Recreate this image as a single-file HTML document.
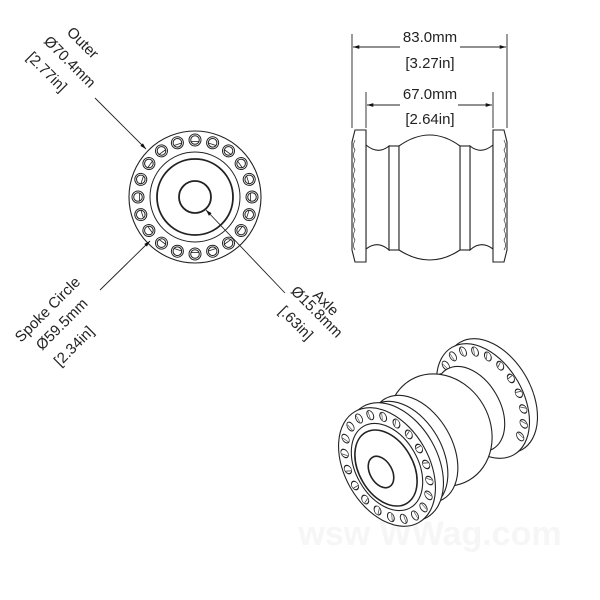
<!DOCTYPE html>
<html><head><style>
html,body{margin:0;padding:0;background:#fff;width:600px;height:600px;overflow:hidden}
svg{display:block}
text{font-family:"Liberation Sans",sans-serif;fill:#222}
</style></head><body>
<svg width="600" height="600" viewBox="0 0 600 600" xmlns="http://www.w3.org/2000/svg">
<defs>
<marker id="ar" viewBox="0 0 10 10" refX="10" refY="5" markerWidth="7" markerHeight="7" orient="auto-start-reverse"><path d="M0,2 L10,5 L0,8 z" fill="#111"/></marker>
<g id="h"><circle r="6" fill="#fff" stroke="#222" stroke-width="1"/><circle r="4.3" fill="none" stroke="#222" stroke-width="1"/><line x1="-1.5" y1="-4" x2="-1.5" y2="4" stroke="#222" stroke-width="0.8"/></g>
<g id="ih"><ellipse rx="3" ry="5" fill="#fff" stroke="#222" stroke-width="0.9"/><line x1="-1" y1="-4" x2="-1" y2="4" stroke="#444" stroke-width="0.6"/></g>
</defs>

<!-- FRONT VIEW -->
<g fill="none" stroke="#222">
<circle cx="195" cy="197" r="66" stroke-width="1.1"/>
<circle cx="195" cy="197" r="45" stroke-width="1"/>
<circle cx="195" cy="197" r="38" stroke-width="1.8"/>
<circle cx="195" cy="197" r="16" stroke-width="1.8"/>
</g>
<g>
<use href="#h" x="252" y="197" transform="rotate(0 195 197)"/>
<use href="#h" x="252" y="197" transform="rotate(18 195 197)"/>
<use href="#h" x="252" y="197" transform="rotate(36 195 197)"/>
<use href="#h" x="252" y="197" transform="rotate(54 195 197)"/>
<use href="#h" x="252" y="197" transform="rotate(72 195 197)"/>
<use href="#h" x="252" y="197" transform="rotate(90 195 197)"/>
<use href="#h" x="252" y="197" transform="rotate(108 195 197)"/>
<use href="#h" x="252" y="197" transform="rotate(126 195 197)"/>
<use href="#h" x="252" y="197" transform="rotate(144 195 197)"/>
<use href="#h" x="252" y="197" transform="rotate(162 195 197)"/>
<use href="#h" x="252" y="197" transform="rotate(180 195 197)"/>
<use href="#h" x="252" y="197" transform="rotate(198 195 197)"/>
<use href="#h" x="252" y="197" transform="rotate(216 195 197)"/>
<use href="#h" x="252" y="197" transform="rotate(234 195 197)"/>
<use href="#h" x="252" y="197" transform="rotate(252 195 197)"/>
<use href="#h" x="252" y="197" transform="rotate(270 195 197)"/>
<use href="#h" x="252" y="197" transform="rotate(288 195 197)"/>
<use href="#h" x="252" y="197" transform="rotate(306 195 197)"/>
<use href="#h" x="252" y="197" transform="rotate(324 195 197)"/>
<use href="#h" x="252" y="197" transform="rotate(342 195 197)"/>
</g>
<!-- leaders -->
<g stroke="#222" stroke-width="0.9" fill="none">
<line x1="95" y1="98" x2="146" y2="149" marker-end="url(#ar)"/>
<line x1="100" y1="290" x2="150" y2="241" marker-end="url(#ar)"/>
<line x1="285" y1="293" x2="206" y2="210" marker-end="url(#ar)"/>
</g>
<g font-size="15">
<text transform="translate(66,33) rotate(45)">Outer</text>
<text transform="translate(43,42) rotate(45)">Ø70.4mm</text>
<text transform="translate(26,58) rotate(45)">[2.77in]</text>
<text transform="translate(21,343) rotate(-45)">Spoke Circle</text>
<text transform="translate(42,351) rotate(-45)">Ø59.5mm</text>
<text transform="translate(60,367) rotate(-45)">[2.34in]</text>
<text transform="translate(312,296) rotate(45)">Axle</text>
<text transform="translate(290,292) rotate(45)">Ø15.8mm</text>
<text transform="translate(278,312) rotate(45)">[.63in]</text>
</g>

<!-- SIDE VIEW -->
<g stroke="#222" stroke-width="0.9" fill="none">
<line x1="352" y1="34" x2="352" y2="128"/>
<line x1="507" y1="34" x2="507" y2="128"/>
<line x1="353" y1="47" x2="400" y2="47" marker-end="url(#ar)" transform="rotate(180 376.5 47)"/>
<line x1="460" y1="47" x2="506" y2="47" marker-end="url(#ar)"/>
<line x1="366" y1="92" x2="366" y2="128"/>
<line x1="493" y1="92" x2="493" y2="128"/>
<line x1="367" y1="105" x2="400" y2="105" marker-end="url(#ar)" transform="rotate(180 383.5 105)"/>
<line x1="458" y1="105" x2="492" y2="105" marker-end="url(#ar)"/>
</g>
<g font-size="15" text-anchor="middle">
<text x="430" y="42">83.0mm</text>
<text x="430" y="68">[3.27in]</text>
<text x="430" y="99">67.0mm</text>
<text x="430" y="124">[2.64in]</text>
</g>
<g stroke="#222" stroke-width="1.1" fill="#fff">
<path d="M366,145 Q378,155 389,146 L389,250 Q378,240 366,249 Z"/>
<path d="M470,146 Q481,155 493,145 L493,249 Q481,240 470,250 Z"/>
<rect x="389" y="146" width="10" height="104"/>
<rect x="460" y="146" width="10" height="104"/>
<path d="M399,146 Q430,124 460,146 L460,250 Q430,270 399,250 Z"/>
<path d="M355,130 L366,130 L366,262 L355,262 L352,250 L352,142 Z"/>
<path d="M493,130 L504,130 L507,142 L507,250 L504,262 L493,262 Z"/>
</g>
<g stroke="#333" stroke-width="0.7" fill="none">
<path d="M355,140 q-3,6 0,10 q-3,6 0,10 q-3,6 0,10 q-3,6 0,10 q-3,6 0,10 q-3,6 0,10 q-3,6 0,10 q-3,6 0,10 q-3,6 0,10 q-3,6 0,10 q-3,6 0,10"/>
<path d="M504,140 q3,6 0,10 q3,6 0,10 q3,6 0,10 q3,6 0,10 q3,6 0,10 q3,6 0,10 q3,6 0,10 q3,6 0,10 q3,6 0,10 q3,6 0,10 q3,6 0,10"/>
</g>

<!-- ISO VIEW -->
<text x="430" y="545" font-size="34" font-weight="bold" text-anchor="middle" style="fill:#f6f6f6">wsw  WWag.com</text>
<g stroke="#222" stroke-width="1.1">
<!-- back flange -->
<ellipse cx="491" cy="396" rx="40" ry="62" transform="rotate(-30 491 396)" fill="#fff"/>
<ellipse cx="483" cy="401" rx="40" ry="62" transform="rotate(-30 483 401)" fill="#fff"/>
</g>
<g transform="translate(483 401) rotate(-30) scale(0.66 1)">
<use href="#ih" transform="rotate(-60) translate(0 -54) scale(1.5 1)"/>
<use href="#ih" transform="rotate(-42) translate(0 -54) scale(1.5 1)"/>
<use href="#ih" transform="rotate(-24) translate(0 -54) scale(1.5 1)"/>
<use href="#ih" transform="rotate(-6) translate(0 -54) scale(1.5 1)"/>
<use href="#ih" transform="rotate(12) translate(0 -54) scale(1.5 1)"/>
<use href="#ih" transform="rotate(30) translate(0 -54) scale(1.5 1)"/>
<use href="#ih" transform="rotate(48) translate(0 -54) scale(1.5 1)"/>
<use href="#ih" transform="rotate(66) translate(0 -54) scale(1.5 1)"/>
<use href="#ih" transform="rotate(84) translate(0 -54) scale(1.5 1)"/>
<use href="#ih" transform="rotate(102) translate(0 -54) scale(1.5 1)"/>
<use href="#ih" transform="rotate(120) translate(0 -54) scale(1.5 1)"/>
<use href="#ih" transform="rotate(138) translate(0 -54) scale(1.5 1)"/>
<use href="#ih" transform="rotate(156) translate(0 -54) scale(1.5 1)"/>
</g>
<g stroke="#222" stroke-width="1.1">
<!-- back neck -->
<ellipse cx="470" cy="409" rx="30" ry="46" transform="rotate(-30 470 409)" fill="#fff"/>
<!-- bulb -->
<ellipse cx="440" cy="430" rx="50" ry="58" transform="rotate(-30 440 430)" fill="#fff"/>
<!-- front ridge -->
<ellipse cx="414" cy="449" rx="38" ry="58" transform="rotate(-30 414 449)" fill="#fff"/>
<ellipse cx="404" cy="455" rx="38" ry="58" transform="rotate(-30 404 455)" fill="#fff"/>
<!-- front flange -->
<ellipse cx="395" cy="462" rx="42" ry="64" transform="rotate(-30 395 462)" fill="#fff"/>
<ellipse cx="387" cy="467" rx="42" ry="64" transform="rotate(-30 387 467)" fill="#fff"/>
<ellipse cx="387" cy="467" rx="31" ry="47" transform="rotate(-30 387 467)" fill="#fff"/>
<ellipse cx="386" cy="468" rx="27" ry="41" transform="rotate(-30 386 468)" fill="#fff" stroke-width="1.6"/>
<ellipse cx="381" cy="472" rx="11" ry="17" transform="rotate(-30 381 472)" fill="#fff" stroke-width="1.6"/>
</g>
<g transform="translate(387 467) rotate(-30) scale(0.66 1)">
<use href="#ih" transform="rotate(0) translate(0 -56) scale(1.5 1)"/>
<use href="#ih" transform="rotate(18) translate(0 -56) scale(1.5 1)"/>
<use href="#ih" transform="rotate(36) translate(0 -56) scale(1.5 1)"/>
<use href="#ih" transform="rotate(54) translate(0 -56) scale(1.5 1)"/>
<use href="#ih" transform="rotate(72) translate(0 -56) scale(1.5 1)"/>
<use href="#ih" transform="rotate(90) translate(0 -56) scale(1.5 1)"/>
<use href="#ih" transform="rotate(108) translate(0 -56) scale(1.5 1)"/>
<use href="#ih" transform="rotate(126) translate(0 -56) scale(1.5 1)"/>
<use href="#ih" transform="rotate(144) translate(0 -56) scale(1.5 1)"/>
<use href="#ih" transform="rotate(162) translate(0 -56) scale(1.5 1)"/>
<use href="#ih" transform="rotate(180) translate(0 -56) scale(1.5 1)"/>
<use href="#ih" transform="rotate(198) translate(0 -56) scale(1.5 1)"/>
<use href="#ih" transform="rotate(216) translate(0 -56) scale(1.5 1)"/>
<use href="#ih" transform="rotate(234) translate(0 -56) scale(1.5 1)"/>
<use href="#ih" transform="rotate(252) translate(0 -56) scale(1.5 1)"/>
<use href="#ih" transform="rotate(270) translate(0 -56) scale(1.5 1)"/>
<use href="#ih" transform="rotate(288) translate(0 -56) scale(1.5 1)"/>
<use href="#ih" transform="rotate(306) translate(0 -56) scale(1.5 1)"/>
<use href="#ih" transform="rotate(324) translate(0 -56) scale(1.5 1)"/>
<use href="#ih" transform="rotate(342) translate(0 -56) scale(1.5 1)"/>
</g>
</svg>
</body></html>
